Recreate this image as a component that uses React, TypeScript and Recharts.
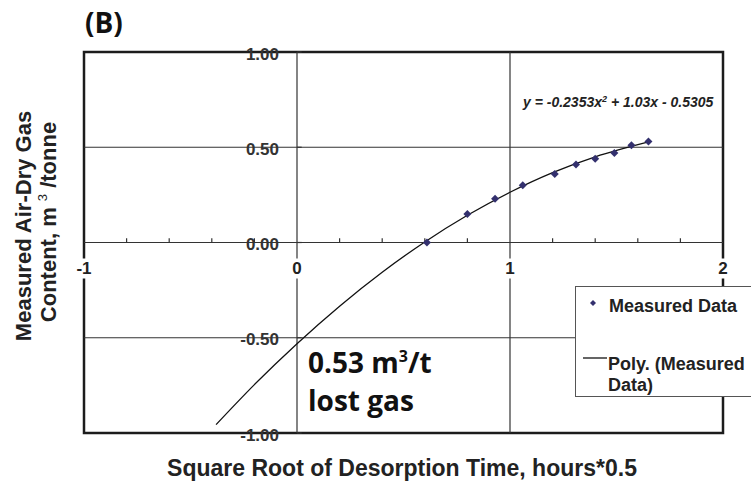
import React from "react";
import {
  ComposedChart,
  Line,
  Scatter,
  XAxis,
  YAxis,
  ReferenceLine,
  ReferenceArea,
  ReferenceDot,
} from "recharts";

// square root of desorption time vs measured gas content
const measuredX = [0.61, 0.8, 0.93, 1.06, 1.21, 1.31, 1.4, 1.49, 1.57, 1.65];
const measuredY = [0.0, 0.15, 0.23, 0.3, 0.36, 0.41, 0.44, 0.47, 0.51, 0.53];

// polynomial trend, back-extrapolated to t = 0
const fitX = [-0.38, -0.2, 0, 0.2, 0.4, 0.6, 0.8, 1.0, 1.2, 1.4, 1.66];
const fitY = [-0.956, -0.746, -0.531, -0.334, -0.156, 0.003, 0.143, 0.264, 0.367, 0.45, 0.531];

const xTicks = [-1, 0, 1, 2];
const yTicks = [1, 0.5, 0, -0.5, -1];
const yTickLabels = ["1.00", "0.50", "0.00", "-0.50", "-1.00"];
const xMinor = [-0.8, -0.6, -0.4, -0.2, 0.2, 0.4, 0.6, 0.8, 1.2, 1.4, 1.6, 1.8];
const gridX = [0, 1];
const gridY = [0.5, 0, -0.5];

const measured = measuredX.map((x, i) => ({ x, y: measuredY[i] }));
const fit = fitX.map((x, i) => ({ x, y: fitY[i] }));

const ARIAL = "'Liberation Sans', Arial, sans-serif";
const OPEN = "'Open Sans', sans-serif";
const INK = "#222";

const Diamond = (props: any) => {
  const { cx, cy } = props;
  const s = 4;
  return (
    <polygon
      points={`${cx},${cy - s} ${cx + s},${cy} ${cx},${cy + s} ${cx - s},${cy}`}
      fill="#33306e"
    />
  );
};

const XTickLabel = (label: string) => (props: any) => {
  const { cx, cy } = props;
  return (
    <g>
      <rect x={cx - 11} y={cy + 16} width={22} height={20} fill="#fff" />
      <text x={cx} y={cy + 31} textAnchor="middle" fontFamily={ARIAL} fontWeight="bold" fontSize={17} fill={INK}>
        {label}
      </text>
    </g>
  );
};

const YTickLabel = (label: string) => (props: any) => {
  const { cx, cy } = props;
  return (
    <text x={cx - 18} y={cy + 7.5} textAnchor="end" fontFamily={ARIAL} fontWeight="bold" fontSize={17} fill="#333">
      {label}
    </text>
  );
};

export default function App() {
  return (
    <div style={{ position: "absolute", left: 0, top: 0, width: 751, height: 488, background: "#fff" }}>
      <ComposedChart width={751} height={488} margin={{ top: 52, right: 28, bottom: 55, left: 84 }}>
        <XAxis type="number" dataKey="x" domain={[-1, 2]} ticks={xTicks} allowDataOverflow hide />
        <YAxis type="number" dataKey="y" domain={[-1, 1]} ticks={yTicks} allowDataOverflow hide />

        {yTicks.map((v, i) => (
          <ReferenceDot key={"yl" + v} x={0} y={v} r={0} ifOverflow="visible" shape={YTickLabel(yTickLabels[i])} />
        ))}

        {gridY.map((v) => (
          <ReferenceLine key={"gy" + v} y={v} stroke="#333" strokeWidth={1.2} />
        ))}
        {gridX.map((v) => (
          <ReferenceLine key={"gx" + v} x={v} stroke="#333" strokeWidth={1.2} />
        ))}
        {xMinor.map((v) => (
          <ReferenceLine
            key={"mt" + v}
            segment={[{ x: v, y: 0 }, { x: v, y: 0.022 }]}
            stroke="#333"
            strokeWidth={1.2}
          />
        ))}
        {yTicks.map((v) => (
          <ReferenceLine
            key={"yt" + v}
            segment={[{ x: 0, y: v }, { x: 0.022, y: v }]}
            stroke="#333"
            strokeWidth={1.2}
            ifOverflow="visible"
          />
        ))}

        <ReferenceArea x1={-1} x2={2} y1={-1} y2={1} fill="none" stroke="#1c1c1c" strokeWidth={2.5} ifOverflow="visible" />

        {xTicks.map((v) => (
          <ReferenceDot key={"xl" + v} x={v} y={0} r={0} ifOverflow="visible" shape={XTickLabel(String(v))} />
        ))}

        <Line
          data={fit}
          dataKey="y"
          type="monotone"
          stroke="#111"
          strokeWidth={1.3}
          dot={false}
          activeDot={false}
          isAnimationActive={false}
        />
        <Scatter data={measured} dataKey="y" shape={<Diamond />} isAnimationActive={false} />
      </ComposedChart>

      <svg width={751} height={488} style={{ position: "absolute", left: 0, top: 0, pointerEvents: "none" }}>
        <text x={85} y={33} fontFamily={OPEN} fontWeight="bold" fontSize={28} fill="#111">
          (B)
        </text>
        <text x={523} y={107} fontFamily={ARIAL} fontWeight="bold" fontStyle="italic" fontSize={14} fill={INK}>
          y = -0.2353x<tspan fontSize={9} dy={-5}>2</tspan>
          <tspan dy={5}> + 1.03x - 0.5305</tspan>
        </text>
        <text x={308} y={373} fontFamily={OPEN} fontWeight="bold" fontSize={28} fill="#111">
          0.53 m<tspan fontSize={16} dy={-11}>3</tspan>
          <tspan dy={11}>/t</tspan>
        </text>
        <text x={308} y={411} fontFamily={OPEN} fontWeight="bold" fontSize={28} fill="#111">
          lost gas
        </text>
        <text x={402} y={476} textAnchor="middle" fontFamily={ARIAL} fontWeight="bold" fontSize={23} fill={INK}>
          Square Root of Desorption Time, hours*0.5
        </text>
        <text
          x={31}
          y={226}
          transform="rotate(-90 31 226)"
          textAnchor="middle"
          fontFamily={ARIAL}
          fontWeight="bold"
          fontSize={22}
          fill={INK}
        >
          Measured Air-Dry Gas
        </text>
        <text
          x={56}
          y={222}
          transform="rotate(-90 56 222)"
          textAnchor="middle"
          fontFamily={ARIAL}
          fontWeight="bold"
          fontSize={22}
          fill={INK}
        >
          Content, m <tspan fontSize={13} fontWeight="normal" dy={-9}>3</tspan>
          <tspan dy={9}> /tonne</tspan>
        </text>
      </svg>

      <div
        style={{
          position: "absolute",
          left: 575,
          top: 286,
          width: 200,
          height: 111,
          background: "#fff",
          border: "1px solid #555",
          boxSizing: "border-box",
          fontFamily: ARIAL,
          fontWeight: "bold",
          fontSize: 18,
          color: INK,
        }}
      >
        <svg width={200} height={111} style={{ position: "absolute", left: -1, top: -1 }}>
          <polygon points="18,14 21,17 18,20 15,17" fill="#33306e" />
          <text x={34} y={26} fontFamily={ARIAL} fontWeight="bold" fontSize={18} fill={INK}>
            Measured Data
          </text>
          <line x1={8} y1={72} x2={32} y2={72} stroke="#111" strokeWidth={1.3} />
          <text x={33} y={84} fontFamily={ARIAL} fontWeight="bold" fontSize={18} fill={INK}>
            Poly. (Measured
          </text>
          <text x={33} y={105} fontFamily={ARIAL} fontWeight="bold" fontSize={18} fill={INK}>
            Data)
          </text>
        </svg>
      </div>
    </div>
  );
}
